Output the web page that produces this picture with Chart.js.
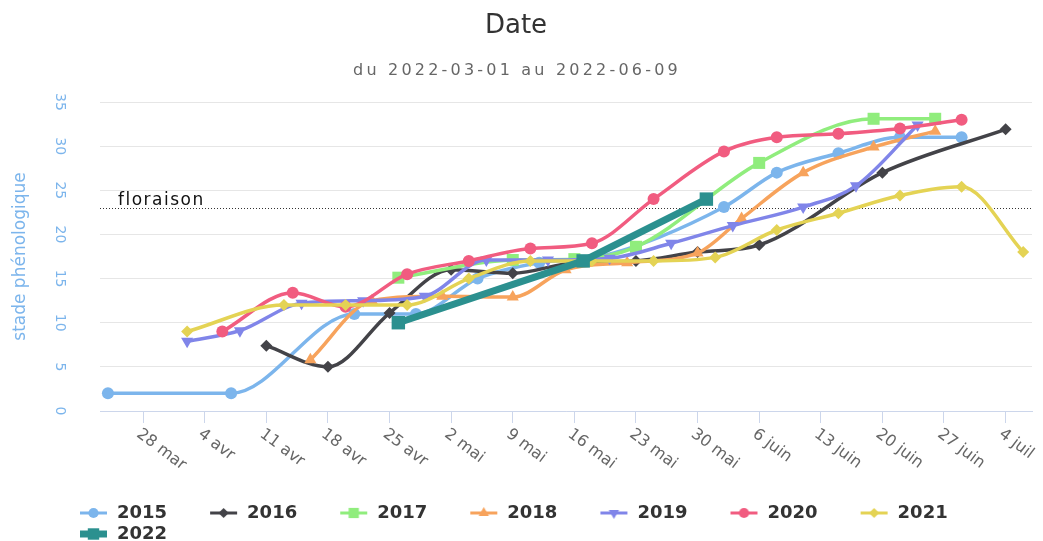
<!DOCTYPE html>
<html>
<head>
<meta charset="utf-8">
<title>Date</title>
<script src="https://cdn.jsdelivr.net/npm/chart.js@4/dist/chart.umd.min.js"></script>
<style>
  html, body { margin: 0; padding: 0; background: #fff; }
  canvas { display: block; }
</style>
</head>
<body>
<canvas id="myChart" width="1043" height="541"></canvas>
<script>
// --- données (jour/mois, stade phénologique) ---
const years = ['2015', '2016', '2017', '2018', '2019', '2020', '2021', '2022'];

const dates2015 = ['03-24', '04-07', '04-21', '04-28', '05-05', '05-12', '05-19', '06-02', '06-08', '06-15', '06-22', '06-29'];
const stade2015 = [2, 2, 11, 11, 15, 16.8, 17.5, 23.1, 27, 29.2, 31, 31];

const dates2016 = ['04-11', '04-18', '04-25', '05-02', '05-09', '05-16', '05-23', '05-30', '06-06', '06-20', '07-04'];
const stade2016 = [7.4, 5, 11.1, 16, 15.6, 16.8, 17, 18, 18.8, 27, 31.9];

const dates2017 = ['04-26', '05-09', '05-16', '05-23', '06-06', '06-19', '06-26'];
const stade2017 = [15.1, 17.1, 17.2, 18.6, 28.1, 33.1, 33.1];

const dates2018 = ['04-16', '04-23', '05-01', '05-09', '05-15', '05-22', '05-30', '06-04', '06-11', '06-19', '06-26'];
const stade2018 = [5.8, 12.5, 13, 12.9, 16, 16.8, 17.9, 21.8, 27, 29.9, 31.7];

const dates2019 = ['04-02', '04-08', '04-15', '04-22', '04-29', '05-06', '05-13', '05-20', '05-27', '06-03', '06-11', '06-17', '06-24'];
const stade2019 = [7.9, 9.1, 12.2, 12.5, 13, 17.1, 17.1, 17.3, 19, 21, 23.1, 25.5, 32.4];

const dates2020 = ['04-06', '04-14', '04-20', '04-27', '05-04', '05-11', '05-18', '05-25', '06-02', '06-08', '06-15', '06-22', '06-29'];
const stade2020 = [9, 13.4, 11.8, 15.5, 17, 18.4, 19, 24, 29.4, 31, 31.4, 32, 33];

const dates2021 = ['04-02', '04-13', '04-20', '04-27', '05-04', '05-11', '05-18', '05-25', '06-01', '06-08', '06-15', '06-22', '06-29', '07-06'];
const stade2021 = [9, 12, 12, 12, 15, 17, 17, 17, 17.4, 20.5, 22.4, 24.4, 25.4, 18];

const dates2022 = ['04-26', '05-17', '05-31'];
const stade2022 = [10, 17, 24];

const tickDates = ['03-28', '04-04', '04-11', '04-18', '04-25', '05-02', '05-09', '05-16', '05-23', '05-30', '06-06', '06-13', '06-20', '06-27', '07-04'];
const tickLabels = ['28 mar', '4 avr', '11 avr', '18 avr', '25 avr', '2 mai', '9 mai', '16 mai', '23 mai', '30 mai', '6 juin', '13 juin', '20 juin', '27 juin', '4 juil'];

const floraison = 23;
const subtitle = 'du 2022-03-01 au 2022-06-09';

// --- style ---
const colors = ['#7cb5ec', '#434348', '#90ed7d', '#f7a35c', '#8085e9', '#f15c80', '#e4d354', '#2b908f'];
const markers = [
    { style: 'circle', rot: 0, r: 6 },
    { style: 'rectRot', rot: 0, r: 6 },
    { style: 'rect', rot: 0, r: 8.5 },
    { style: 'triangle', rot: 0, r: 7 },
    { style: 'triangle', rot: 180, r: 7 },
    { style: 'circle', rot: 0, r: 6 },
    { style: 'rectRot', rot: 0, r: 6 },
    { style: 'rect', rot: 0, r: 9.5 }
];
const lineWidths = [3.5, 3.5, 3.5, 3.5, 3.5, 3.5, 3.5, 7];

const allDates = [dates2015, dates2016, dates2017, dates2018, dates2019, dates2020, dates2021, dates2022];
const allStades = [stade2015, stade2016, stade2017, stade2018, stade2019, stade2020, stade2021, stade2022];

// jour de l'année (année non bissextile)
function dayOfYear(md) {
    const [m, d] = md.split('-').map(Number);
    return (Date.UTC(2022, m - 1, d) - Date.UTC(2022, 0, 1)) / 86400000 + 1;
}
const tickDays = tickDates.map(dayOfYear);

Chart.defaults.font.family = '"DejaVu Sans", sans-serif';
Chart.defaults.color = '#666';

// symbole de légende : trait + marqueur
function legendSymbol(i) {
    const c = document.createElement('canvas');
    c.width = 68;
    c.height = 18;
    const g = c.getContext('2d');
    g.strokeStyle = colors[i];
    g.fillStyle = colors[i];
    g.lineWidth = i === 7 ? 7 : 3;
    g.beginPath();
    g.moveTo(40, 9);
    g.lineTo(67, 9);
    g.stroke();
    const m = markers[i];
    Chart.helpers.drawPoint(g, { pointStyle: m.style, rotation: m.rot, radius: m.r * 0.85, borderWidth: 0 }, 53.5, 9);
    return c;
}

const datasets = years.map((year, i) => ({
    label: year,
    data: allDates[i].map((d, k) => ({ x: dayOfYear(d), y: allStades[i][k] })),
    borderColor: colors[i],
    backgroundColor: colors[i],
    borderWidth: lineWidths[i],
    pointStyle: markers[i].style,
    pointRotation: markers[i].rot,
    pointRadius: markers[i].r,
    pointBackgroundColor: colors[i],
    pointBorderColor: colors[i],
    pointBorderWidth: 0,
    cubicInterpolationMode: i === 7 ? 'default' : 'monotone',
    tension: i === 7 ? 0 : 0.4,
    fill: false,
    order: years.length - i
}));

const extras = {
    id: 'extras',
    afterLayout(chart) {
        // légende : bloc décalé comme dans l'original
        chart.legend.left += 37;
        chart.legend.right += 37;
        chart.legend.top += 12;
        chart.legend.bottom += 12;
    },
    beforeDatasetsDraw(chart) {
        const { ctx, chartArea, scales: { y } } = chart;
        const py = Math.round(y.getPixelForValue(floraison)) + 0.5;
        ctx.save();
        ctx.strokeStyle = '#333';
        ctx.lineWidth = 1;
        ctx.setLineDash([1, 2]);
        ctx.beginPath();
        ctx.moveTo(chartArea.left, py);
        ctx.lineTo(chartArea.right, py);
        ctx.stroke();
        ctx.setLineDash([]);
        ctx.fillStyle = '#111';
        ctx.font = '17px "DejaVu Sans"';
        ctx.letterSpacing = '1.5px';
        ctx.textAlign = 'left';
        ctx.textBaseline = 'alphabetic';
        ctx.fillText('floraison', chartArea.left + 18, py - 4);
        ctx.restore();
    },
    afterDraw(chart) {
        const { ctx, scales: { x } } = chart;
        ctx.save();
        ctx.fillStyle = '#666';
        ctx.font = '16px "DejaVu Sans"';
        ctx.textAlign = 'left';
        ctx.textBaseline = 'top';
        tickDays.forEach((d, i) => {
            const px = x.getPixelForValue(d);
            ctx.save();
            ctx.translate(px, x.top + 15);
            ctx.rotate(37 * Math.PI / 180);
            ctx.fillText(tickLabels[i], 0, 0);
            ctx.restore();
        });
        // sous-titre
        ctx.fillStyle = '#666';
        ctx.font = '16px "DejaVu Sans"';
        ctx.letterSpacing = '3.2px';
        ctx.textAlign = 'center';
        ctx.textBaseline = 'alphabetic';
        ctx.fillText(subtitle, 517, 75);
        ctx.restore();
    }
};

new Chart(document.getElementById('myChart'), {
    type: 'line',
    data: { datasets },
    options: {
        responsive: false,
        animation: false,
        events: [],
        layout: { padding: { left: 0, right: 11, top: 0, bottom: 0 } },
        scales: {
            x: {
                type: 'linear',
                min: 82.1,
                max: 188,
                afterBuildTicks(scale) {
                    scale.ticks = tickDays.map(v => ({ value: v }));
                },
                afterFit(scale) { scale.height = 78; },
                ticks: { display: false },
                grid: { drawOnChartArea: false, drawTicks: true, tickLength: 12, color: '#ccd6eb' },
                border: { display: true, color: '#ccd6eb' }
            },
            y: {
                min: 0,
                max: 35,
                afterFit(scale) { scale.width = 100; },
                ticks: {
                    stepSize: 5,
                    autoSkip: false,
                    minRotation: -90,
                    maxRotation: -90,
                    crossAlign: 'center',
                    padding: 31,
                    color: '#7cb5ec',
                    font: { size: 14 }
                },
                grid: { color: '#e6e6e6', drawTicks: false },
                border: { display: false },
                title: {
                    display: true,
                    text: 'stade phénologique',
                    color: '#7cb5ec',
                    font: { size: 17 },
                    padding: { top: 10, bottom: 0 }
                }
            }
        },
        plugins: {
            title: {
                display: true,
                text: 'Date',
                color: '#333',
                font: { size: 26, weight: 'normal' },
                padding: { top: 10.4, bottom: 60.4 }
            },
            legend: {
                position: 'bottom',
                align: 'start',
                labels: {
                    usePointStyle: true,
                    pointStyleWidth: 68,
                    padding: 3,
                    color: '#333',
                    font: { size: 18, weight: 'bold' },
                    generateLabels(chart) {
                        return chart.data.datasets.map((ds, i) => ({
                            text: ds.label,
                            pointStyle: legendSymbol(i),
                            fillStyle: colors[i],
                            strokeStyle: colors[i],
                            lineWidth: 0,
                            fontColor: '#333',
                            hidden: false,
                            datasetIndex: i
                        }));
                    }
                }
            },
            tooltip: { enabled: false }
        }
    },
    plugins: [extras]
});
</script>
</body>
</html>
